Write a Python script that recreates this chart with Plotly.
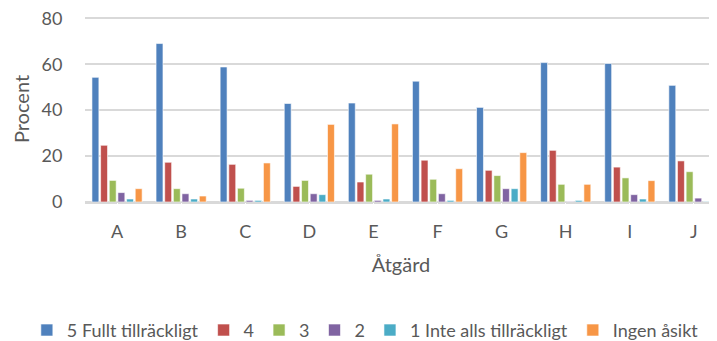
import plotly.graph_objects as go

categories = ["A", "B", "C", "D", "E", "F", "G", "H", "I", "J"]
series_names = ["5 Fullt tillräckligt", "4", "3", "2", "1 Inte alls tillräckligt", "Ingen åsikt"]
s5 = [54.3, 69.0, 58.8, 42.9, 43.1, 52.6, 41.2, 60.7, 60.3, 50.8]
s4 = [24.7, 17.3, 16.4, 6.8, 8.7, 18.2, 13.8, 22.5, 15.2, 17.9]
s3 = [9.4, 5.8, 6.0, 9.4, 12.1, 9.9, 11.5, 7.7, 10.5, 13.2]
s2 = [4.1, 3.6, 0.7, 3.6, 0.7, 3.6, 5.8, 0.2, 3.2, 1.7]
s1 = [1.3, 1.3, 0.7, 3.2, 1.3, 0.7, 5.8, 0.7, 1.3, 0.2]
s0 = [5.8, 2.6, 17.0, 33.8, 34.0, 14.5, 21.5, 7.7, 9.3, 15.5]
y_ticks = [0, 20, 40, 60, 80]
colors = ["#4F81BD", "#C0504D", "#9BBB59", "#8064A2", "#4BACC6", "#F79646"]

fig = go.Figure()
for name, vals, col in zip(series_names, [s5, s4, s3, s2, s1, s0], colors):
    fig.add_trace(go.Bar(x=categories, y=vals, name=name,
                         marker=dict(color=col, line=dict(color="white", width=0.6))))

font_family = "Lato, Open Sans, sans-serif"
fig.update_layout(
    width=717, height=341,
    margin=dict(l=77, r=8, t=8, b=147, autoexpand=False),
    paper_bgcolor="white", plot_bgcolor="white",
    barmode="group", bargap=0.19, bargroupgap=0.2,
    font=dict(family=font_family, size=15, color="#595959"),
    xaxis=dict(range=[-0.5, 9.36], automargin=False,
               title=dict(text="Åtgärd", standoff=17, font=dict(size=20)),
               tickfont=dict(size=18), showgrid=False, showline=False,
               ticks="outside", ticklen=13, tickcolor="white"),
    yaxis=dict(range=[0, 81], tickvals=y_ticks, automargin=False, showgrid=True,
               gridcolor="#D9D9D9", gridwidth=1.5, ticklabeloverflow="allow",
               zeroline=True, zerolinecolor="#D9D9D9", zerolinewidth=2.5,
               ticks="outside", ticklen=18, tickcolor="white",
               tickfont=dict(size=18), title=dict(text="Procent", font=dict(size=20), standoff=6)),
    legend=dict(orientation="h", x=-0.092, xanchor="left", y=-0.69, yanchor="middle",
                font=dict(size=18), itemwidth=30, traceorder="normal"),
    showlegend=True,
)
fig.write_html("out.html")
